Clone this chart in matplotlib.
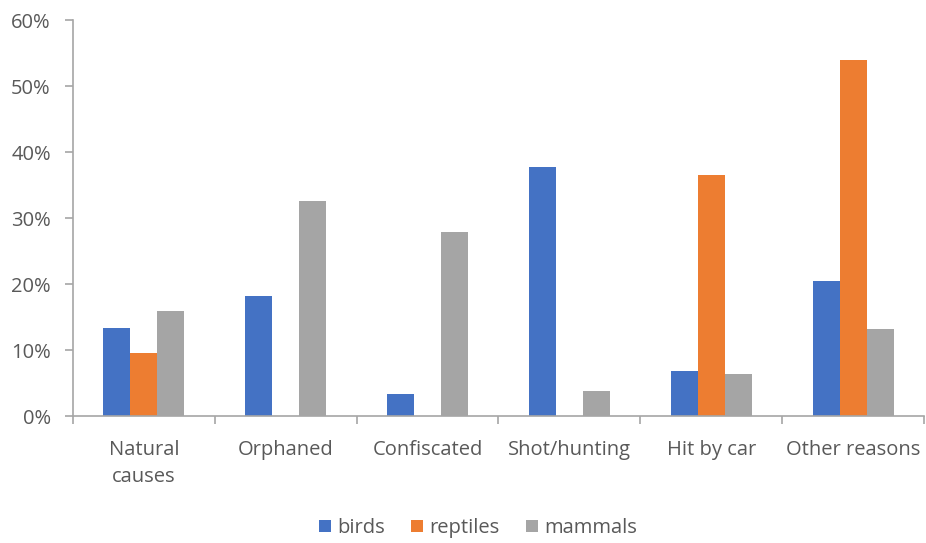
import matplotlib.pyplot as plt
from matplotlib.ticker import FixedLocator, PercentFormatter
import numpy as np

categories = ["Natural\ncauses", "Orphaned", "Confiscated", "Shot/hunting", "Hit by car", "Other reasons"]
birds = [13.4, 18.2, 3.4, 37.8, 6.8, 20.4]
reptiles = [9.5, 0, 0, 0, 36.5, 53.9]
mammals = [15.9, 32.6, 27.9, 3.8, 6.4, 13.2]
series_names = ["birds", "reptiles", "mammals"]
colors = ["#4472C4", "#ED7D31", "#A5A5A5"]

plt.rcParams['font.family'] = ['Open Sans', 'DejaVu Sans']
FS = 14.5

fig = plt.figure(figsize=(9.26, 5.43), dpi=100)
ax = fig.add_axes([73 / 926, 1 - 416 / 543, (924 - 73) / 926, (416 - 20) / 543])

x = np.arange(len(categories)) + 0.5
w = 0.19
for i, (vals, name, c) in enumerate(zip([birds, reptiles, mammals], series_names, colors)):
    ax.bar(x + (i - 1) * w, vals, width=w, color=c, label=name, zorder=2)

ax.set_xlim(0, len(categories))
ax.set_ylim(0, 60)
ax.set_yticks(np.arange(0, 61, 10))
ax.yaxis.set_major_formatter(PercentFormatter(decimals=0))

ax.set_xticks(x)
ax.set_xticklabels(categories, linespacing=1.5)
ax.xaxis.set_minor_locator(FixedLocator(np.arange(0, len(categories) + 1)))
ax.tick_params(axis='x', which='major', length=0, pad=17)
ax.tick_params(axis='x', which='minor', length=6, color='#A6A6A6', width=1.2)
ax.tick_params(axis='y', length=6, color='#A6A6A6', width=1.2, pad=10)
ax.tick_params(labelsize=FS, labelcolor='#595959')

for s in ['top', 'right']:
    ax.spines[s].set_visible(False)
for s in ['left', 'bottom']:
    ax.spines[s].set_color('#A6A6A6')
    ax.spines[s].set_linewidth(1.2)

fig.legend(loc='center', bbox_to_anchor=(478 / 926, 1 - 528 / 543), ncol=3, frameon=False,
           fontsize=FS, handlelength=0.6, handleheight=0.6, handletextpad=0.3,
           columnspacing=1.3, labelcolor='#595959')

fig.savefig("out.png", dpi=100)
